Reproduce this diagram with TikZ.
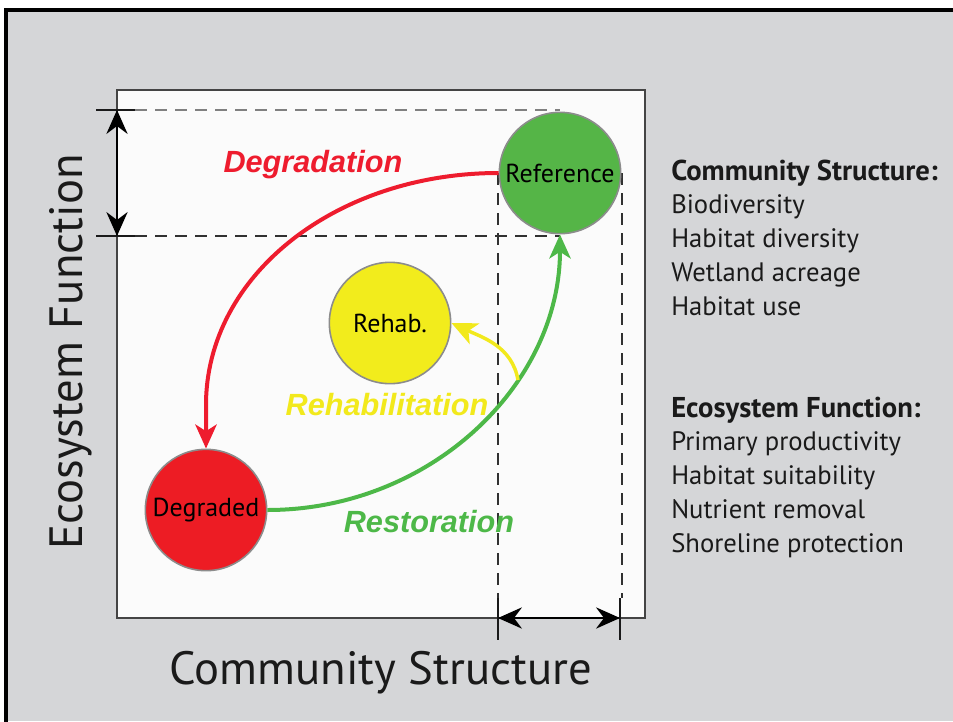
\documentclass[tikz,border=0pt]{standalone}
\usepackage{fontspec}
\setmainfont{PT Sans}
\newfontfamily\arialf{Liberation Sans}
\usetikzlibrary{arrows.meta}
\definecolor{bggray}{HTML}{D5D6D8}
\definecolor{plotbg}{HTML}{FBFBFB}
\definecolor{boxgray}{HTML}{444444}
\definecolor{refgreen}{HTML}{55B547}
\definecolor{degred}{HTML}{ED1C24}
\definecolor{rehyellow}{HTML}{F2EC1C}
\definecolor{arcgreen}{HTML}{4DB848}
\definecolor{arcred}{HTML}{EE1C2E}
\definecolor{arcyellow}{HTML}{F2E91C}
\definecolor{txtdark}{HTML}{1A1A1A}
\tikzset{
  circ/.style={circle, draw=gray!90, line width=1.2pt, minimum size=91pt, inner sep=0pt, font=\fontsize{19.5}{22}\selectfont, text=black},
  dashline/.style={draw=txtdark!90, line width=1.1pt, dash pattern=on 9pt off 6pt},
  tickline/.style={draw=txtdark, line width=1.3pt},
  dimarrow/.style={draw=black, line width=1.1pt, {Stealth[length=18pt,width=16pt,inset=6pt]}-{Stealth[length=18pt,width=16pt,inset=6pt]}},
  arcline/.style={line width=3pt, -{Stealth[length=18pt,width=16pt,inset=5pt]}},
  arclabel/.style={font=\arialf\bfseries\itshape\fontsize{23}{26}\selectfont},
  listtxt/.style={anchor=base west, inner sep=0pt, font=\fontsize{20}{23}\selectfont, text=txtdark},
  listhead/.style={anchor=base west, inner sep=0pt, font=\bfseries\fontsize{21.5}{24}\selectfont, text=txtdark},
  axislabel/.style={font=\fontsize{35}{40}\selectfont, text=txtdark, anchor=base}
}
\begin{document}
\begin{tikzpicture}[x=0.75pt,y=-0.75pt]
\useasboundingbox (0,0) rectangle (953,721);
\fill[white] (0,0) rectangle (953,721);
\fill[bggray] (6,10) rectangle (953,721);
\draw[line width=2.3pt] (6,730) -- (6,10) -- (960,10);
% plot box
\draw[fill=plotbg, draw=boxgray, line width=1.5pt] (117,90) rectangle (645,618);
% dashed guides
\draw[dashline, draw=gray] (135,110) -- (560,110);
\draw[dashline] (135,236) -- (560,236);
\draw[dashline] (498,173) -- (498,598);
\draw[dashline] (622,173) -- (622,598);
% ticks
\draw[tickline] (96,110) -- (135,110);
\draw[tickline] (96,236) -- (135,236);
\draw[tickline] (498,598) -- (498,640);
\draw[tickline] (620,598) -- (620,640);
% dimension arrows
\coordinate (vt) at (117,110);
\coordinate (vb) at (117,236);
\coordinate (hl) at (498,618);
\coordinate (hr) at (620,618);
\draw[dimarrow] (vt) -- (vb);
\draw[dimarrow] (hl) -- (hr);
% circles
\node[circ, fill=refgreen] (ref) at (560,173) {Reference};
\node[circ, fill=degred] (deg) at (206,510) {Degraded};
\node[circ, fill=rehyellow] (reh) at (390,323) {Rehab.};
% arcs
\coordinate (rd) at (206,405);
\draw[arcline, draw=arcred] (ref.west) .. controls +(-162,0) and +(0,-130) .. (rd) -- (deg.north);
\draw[arcline, draw=arcgreen] (deg.east) .. controls +(162,0) and +(0,151) .. (ref.south);
\coordinate (ys) at (518,380);
\draw[line width=2.6pt, draw=arcyellow, -{Stealth[length=19pt,width=17pt,inset=5pt]}] (ys) to[out=100,in=-25] (reh.east);
% arc labels
\node[arclabel, text=arcred] (ldeg) at (313,165) {Degradation};
\node[arclabel, text=arcyellow] (lreh) at (387,405) {Rehabilitation};
\node[arclabel, text=arcgreen] (lres) at (429,522) {Restoration};
% axis labels
\node[axislabel, rotate=90] (ylab) at (82,352) {Ecosystem Function};
\node[axislabel] (xlab) at (381,684) {Community Structure};
% right list
\node[listhead] (h1) at (671,180) {Community Structure:};
\node[listtxt] (a1) at (671,213) {Biodiversity};
\node[listtxt] (a2) at (671,247) {Habitat diversity};
\node[listtxt] (a3) at (671,281) {Wetland acreage};
\node[listtxt] (a4) at (671,315) {Habitat use};
\node[listhead] (h2) at (671,417) {Ecosystem Function:};
\node[listtxt] (b1) at (671,450) {Primary productivity};
\node[listtxt] (b2) at (671,484) {Habitat suitability};
\node[listtxt] (b3) at (671,518) {Nutrient removal};
\node[listtxt] (b4) at (671,552) {Shoreline protection};
\end{tikzpicture}
\end{document}
